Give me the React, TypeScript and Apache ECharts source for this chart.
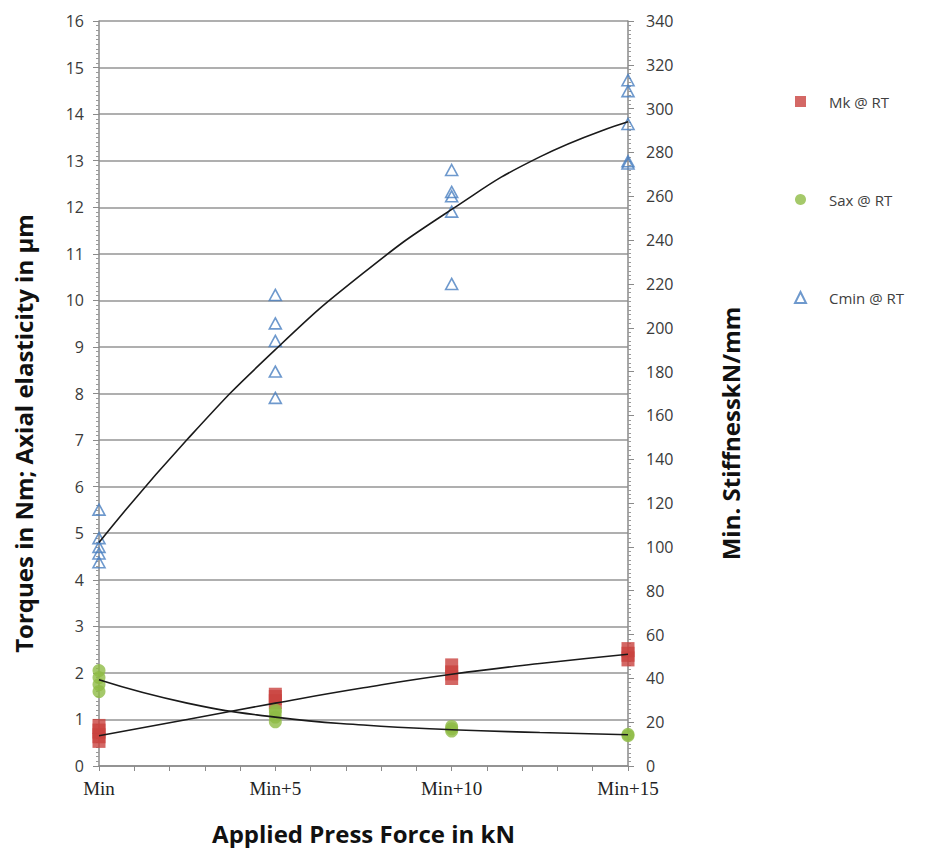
import React, { useEffect, useRef } from "react";
import * as echarts from "echarts";

// Press force offsets (kN above Min) and their tick labels
const forceOffsets = [0, 5, 10, 15];
const categoryLabels = ["Min", "Min+5", "Min+10", "Min+15"];

// Measured points (left axis: Nm / µm; right axis: kN/mm)
const mkValues = [
  [0.55, 0.65, 0.75, 0.85],
  [1.38, 1.47, 1.52],
  [1.9, 2.0, 2.15],
  [2.3, 2.4, 2.5],
];
const saxValues = [
  [1.6, 1.75, 1.9, 2.05],
  [0.95, 1.05, 1.15, 1.2],
  [0.75, 0.8, 0.85],
  [0.65, 0.68],
];
const cminValues = [
  [93, 97, 100, 104, 117],
  [168, 180, 194, 202, 215],
  [220, 253, 260, 262, 272],
  [275, 276, 293, 308, 313],
];

// Trend lines
const trendX = [0, 2.5, 5, 7.5, 10, 12.5, 15];
const mkTrend = [0.65, 1.0, 1.35, 1.68, 1.97, 2.2, 2.4];
const saxTrend = [1.85, 1.35, 1.05, 0.88, 0.78, 0.72, 0.67];
const cminTrend = [102, 149, 190, 225, 254, 278, 294];

const seriesNames = ["Mk @ RT", "Sax @ RT", "Cmin @ RT"];

const pairs = (groups: number[][]) =>
  groups.flatMap((g, i) => g.map((v) => [forceOffsets[i], v]));
const line = (ys: number[]) => trendX.map((x, i) => [x, ys[i]]);

export default function App() {
  const ref = useRef<HTMLDivElement>(null);
  useEffect(() => {
    document.body.style.margin = "0";
    const chart = echarts.init(ref.current!, null, { renderer: "svg" });
    const labelFont = "Open Sans";
    const titleStyle = { fontFamily: labelFont, fontWeight: "bold", fontSize: 24, color: "#111" };
    const yTitleStyle = { ...titleStyle, padding: [0, 80, 0, 0] };
    const trendStyle = { color: "#1a1a1a", width: 1.6 };
    chart.setOption({
      animation: false,
      backgroundColor: "#ffffff",
      grid: {
        left: 99,
        right: 312,
        top: 21,
        bottom: 82,
        containLabel: false,
        outerBoundsMode: "none",
      },
      legend: {
        orient: "vertical",
        left: 789,
        top: 89,
        itemGap: 83,
        itemWidth: 11,
        itemHeight: 11,
        textStyle: { fontFamily: labelFont, fontSize: 15, color: "#404040", padding: [0, 0, 0, 18] },
        data: [
          { name: seriesNames[0], icon: "rect" },
          { name: seriesNames[1], icon: "circle" },
          { name: seriesNames[2], icon: "triangle" },
        ],
      },
      xAxis: {
        type: "value",
        min: 0,
        max: 15,
        interval: 1,
        name: "Applied Press Force in kN",
        nameLocation: "middle",
        nameGap: 55,
        nameTextStyle: titleStyle,
        axisLine: { lineStyle: { color: "#8a8a8a", width: 1.5 } },
        axisTick: { length: 5, lineStyle: { color: "#8a8a8a" } },
        splitLine: { show: false },
        axisLabel: {
          margin: 13,
          fontFamily: "Liberation Serif",
          fontSize: 19,
          color: "#222",
          formatter: (v: number) => {
            const i = forceOffsets.indexOf(v);
            return i >= 0 ? categoryLabels[i] : "";
          },
        },
      },
      yAxis: [
        {
          type: "value",
          min: 0,
          max: 16,
          interval: 1,
          name: "Torques in Nm; Axial elasticity in µm",
          nameLocation: "middle",
          nameRotate: 90,
          nameGap: 64,
          nameTextStyle: yTitleStyle,
          axisLine: { show: true, lineStyle: { color: "#8a8a8a", width: 1.5 } },
          axisTick: { show: true, length: 6, lineStyle: { color: "#8a8a8a" } },
          minorTick: { show: true, splitNumber: 10, length: 3, lineStyle: { color: "#9a9a9a" } },
          splitLine: { show: true, lineStyle: { color: "#959595", width: 1.5 } },
          axisLabel: { margin: 15, fontFamily: labelFont, fontSize: 16, color: "#3a3a3a" },
        },
        {
          type: "value",
          min: 0,
          max: 340,
          interval: 20,
          position: "right",
          name: "Min. StiffnesskN/mm",
          nameLocation: "middle",
          nameRotate: 90,
          nameGap: 90,
          nameTextStyle: yTitleStyle,
          axisLine: { show: true, lineStyle: { color: "#8a8a8a", width: 1.5 } },
          axisTick: { show: true, length: 6, lineStyle: { color: "#8a8a8a" } },
          minorTick: { show: true, splitNumber: 10, length: 3, lineStyle: { color: "#9a9a9a" } },
          splitLine: { show: false },
          axisLabel: { margin: 18, fontFamily: labelFont, fontSize: 16, color: "#3a3a3a" },
        },
      ],
      series: [
        {
          name: seriesNames[0],
          type: "scatter",
          yAxisIndex: 0,
          symbol: "rect",
          symbolSize: [13, 15],
          itemStyle: { color: "#c9423f" },
          data: pairs(mkValues),
          z: 3,
        },
        {
          name: seriesNames[1],
          type: "scatter",
          yAxisIndex: 0,
          symbol: "circle",
          symbolSize: 13,
          itemStyle: { color: "#8fbc45" },
          data: pairs(saxValues),
          z: 3,
        },
        {
          name: seriesNames[2],
          type: "scatter",
          yAxisIndex: 1,
          symbol: "triangle",
          symbolSize: [12, 11],
          itemStyle: { color: "rgba(255,255,255,0)", borderColor: "#4a7fc1", borderWidth: 1.6 },
          data: pairs(cminValues),
          z: 3,
        },
        {
          name: "Mk trend",
          type: "line",
          yAxisIndex: 0,
          smooth: true,
          showSymbol: false,
          symbol: "none",
          lineStyle: trendStyle,
          data: line(mkTrend),
          z: 4,
        },
        {
          name: "Sax trend",
          type: "line",
          yAxisIndex: 0,
          smooth: true,
          showSymbol: false,
          symbol: "none",
          lineStyle: trendStyle,
          data: line(saxTrend),
          z: 4,
        },
        {
          name: "Cmin trend",
          type: "line",
          yAxisIndex: 1,
          smooth: true,
          showSymbol: false,
          symbol: "none",
          lineStyle: trendStyle,
          data: line(cminTrend),
          z: 4,
        },
      ],
    });
    return () => chart.dispose();
  }, []);
  return <div ref={ref} style={{ width: 940, height: 848 }} />;
}
